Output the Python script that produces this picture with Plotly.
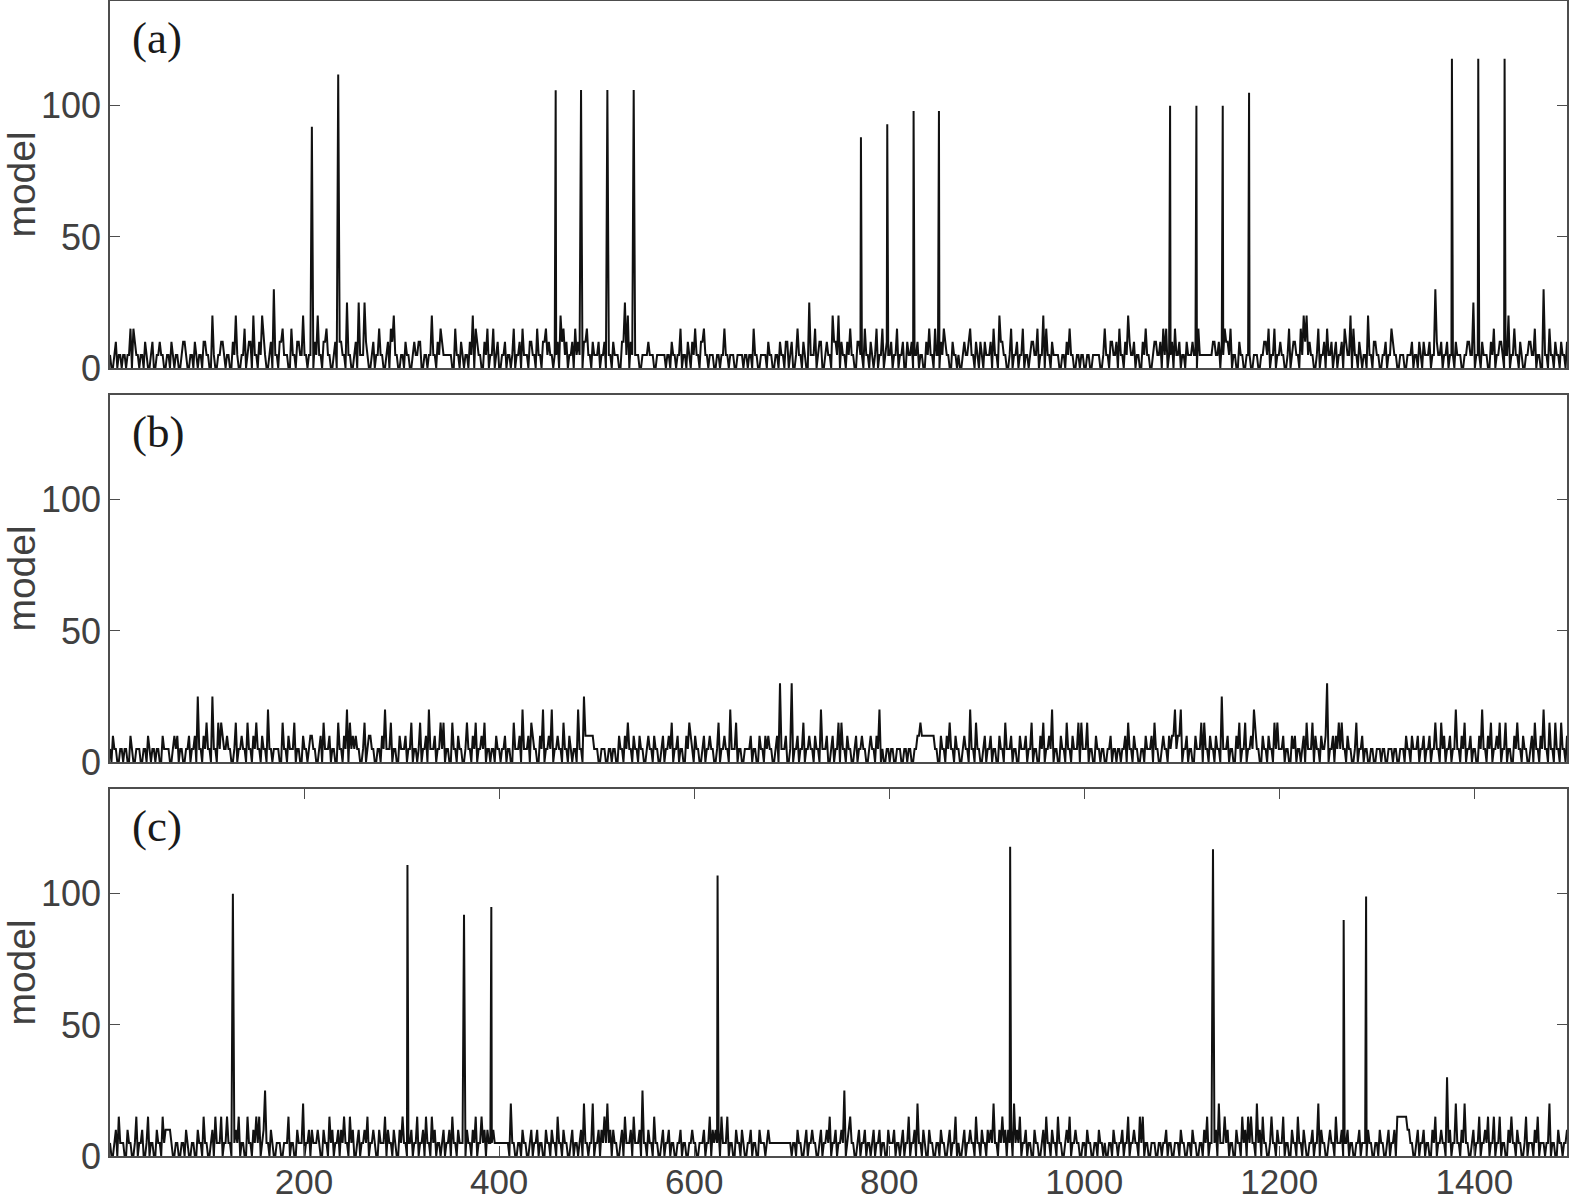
"""
Three stacked count traces, (a) (b) (c), shared x-range 1..1495.
"""

import plotly.graph_objects as go
from plotly.subplots import make_subplots

# ── Colours / fonts ───────────────────────────────────────────────────────────
LINE  = "#111111"   # data trace
AXIS  = "#4d4d4d"   # frame + ticks
TEXT  = "#404040"   # tick labels, axis title
SANS  = "Liberation Sans, Arial, sans-serif"
SERIF = "Liberation Serif, Times New Roman, serif"

# ── Data ──────────────────────────────────────────────────────────────────────
# Baseline noise is read at two interleaved grids: "main" samples at
# GRID_START + GRID_STEP*i and "mid" samples half a step later.
# Each digit is a level in multiples of LEVEL_STEP (0, 5, 10, ... 30).
GRID_START = 1
GRID_STEP  = 3
LEVEL_STEP = 5

PANEL_A_MAIN = (
    "10210113310120101210120102101201210401211024013124"
    "12410261231031214111241231021215102515102131023410"
    "12102120114123111031201243102313101210312310213123"
    "21124321232123121212212102542110112101110121131012"
    "31231110113111011101310112101212020312051312021424"
    "21231021312031311213120121210231312310211021312012"
    "12314210312131021314312110123101101011103121231241"
    "21023102123312310121213111121223231021010110123131"
    "21031213442103123102123143120141210121310110121012"
    "1216121211210121511210231211413120121310613121212"
)
PANEL_A_MID = (
    "01011010211010201101011012010110210101201011010201"
    "01201010211010211010110210102101010112010110102101"
    "01011201011012111010110102101010201011010112101021"
    "10102101011021011010101102101110111101111010101201"
    "10210101011010110110101101010102101101011020110210"
    "10110210101101021010102101010110101210100112101201"
    "10102101010101121010101101011010101011011021010121"
    "01011012101010121011101111121012101010110101210101"
    "10102101211010101210102101011010210101210101101201"
    "101210101011012101011010120101101012101010101010"
)
PANEL_B_MAIN = (
    "12101102011012011021102210121251231513312103121312"
    "31214111031213102112102312103124322103121012413102"
    "12131031241213310312103123123101211210312412310241"
    "24121312014152221011011021231212102121021231210231"
    "21021210312141310112102122102612061213121214120213"
    "31210212102124101101101101232222102123121021413102"
    "12102131210212131023124102131213313102110121011231"
    "21012123102122424121021331212151210231312410212133"
    "12102210231321216122331210312101011101110112121212"
    "1213132121412312102412312313102312102312413131312"
)
PANEL_B_MID = (
    "01010101010101101011011010101010110101211010110101"
    "10101011010110101021010110101010111010210101110101"
    "10101101011011010101011010110110101010110110210101"
    "10110101101022211010101010110101011010101101010120"
    "10101101011011010110101011010110101010110101101010"
    "10101011011010010101010101222222101011010110101010"
    "10101011010110101010110101010110110101010101101010"
    "10101101011012120101011010101011010101011210101011"
    "10101011011010120101110101010101010101010101011010"
    "101101010110101010110101101010110101010110101010"
)
PANEL_C_MAIN = (
    "10231021031203102132210101201021310231313112310312"
    "33151201101310214122120213212231320212312021321202"
    "31121312313210212312112123132212111114101210212102"
    "12131210210241141223422102312312512131021210121012"
    "10121322231310212012102102111111101210212102123121"
    "25131021210212102121021312412021012102131021213121"
    "22412322242312102102312131023121012101211012112131"
    "21331011011210112101210123112413210213233142310312"
    "13102131201214210213121210121121012102123333210212"
    "1023121621412410213123131310231210311231114102112"
)
PANEL_C_MID = (
    "01011010101010101012201010101010101011011011010101"
    "10210101011010110101110101010110101011011011010101"
    "10101010101011010101101010110111111101010101010101"
    "01010101011010101011101010110110101010101010101011"
    "01101011011010101010101111111111110101011010110101"
    "10210101011010101101101010101010101010100101101010"
    "11101101011010101010101010110110101010100101010101"
    "10101010101010101010101010110111010101011010101101"
    "10101010101010101101101010101010101010103332101010"
    "101011010110110101011010101011010101010101010101"
)

# Tall single-sample spikes: position and height.
PANEL_A_SPIKE_X = [208, 235, 458, 484, 511, 538, 771, 798, 825, 851,
                   1088, 1115, 1142, 1169, 1377, 1404, 1431]
PANEL_A_SPIKE_Y = [92, 112, 106, 106, 106, 106, 88, 93, 98, 98,
                   100, 100, 100, 105, 118, 118, 118]
PANEL_B_SPIKE_X = []
PANEL_B_SPIKE_Y = []
PANEL_C_SPIKE_X = [127, 306, 364, 392, 624, 924, 1132, 1266, 1289]
PANEL_C_SPIKE_Y = [100, 111, 92, 95, 107, 118, 117, 90, 99]

PANEL_TAGS  = ["(a)", "(b)", "(c)"]
X_RANGE     = [1, 1495]
Y_RANGE     = [0, 140]
X_TICKS     = [200, 400, 600, 800, 1000, 1200, 1400]
Y_TICKS     = [0, 50, 100]
Y_TITLE     = "model"


def panel_series(main, mid, spike_x, spike_y):
    """Merge both sampled grids with the spikes into one x-sorted trace."""
    pts = {GRID_START + GRID_STEP * i: LEVEL_STEP * int(c)
           for i, c in enumerate(main)}
    pts.update({GRID_START + GRID_STEP * (i + 0.5): LEVEL_STEP * int(c)
                for i, c in enumerate(mid)})
    pts.update(zip(spike_x, spike_y))
    xs = sorted(pts)
    return xs, [pts[x] for x in xs]


panels = [
    (PANEL_A_MAIN, PANEL_A_MID, PANEL_A_SPIKE_X, PANEL_A_SPIKE_Y),
    (PANEL_B_MAIN, PANEL_B_MID, PANEL_B_SPIKE_X, PANEL_B_SPIKE_Y),
    (PANEL_C_MAIN, PANEL_C_MID, PANEL_C_SPIKE_X, PANEL_C_SPIKE_Y),
]

# ── Figure ────────────────────────────────────────────────────────────────────
fig = make_subplots(rows=3, cols=1, vertical_spacing=27 / 1155)

for row, (series, tag) in enumerate(zip(panels, PANEL_TAGS), start=1):
    xs, ys = panel_series(*series)
    fig.add_trace(go.Scatter(
        x=xs, y=ys, mode="lines",
        line=dict(color=LINE, width=2),
        showlegend=False, hoverinfo="skip"
    ), row=row, col=1)

    bottom = row == 3
    fig.update_xaxes(
        range=X_RANGE, showgrid=False, zeroline=False, automargin=False,
        showline=True, linecolor=AXIS, linewidth=1.5,
        mirror="ticks" if bottom else True,
        ticks="inside" if bottom else "", ticklen=10, tickwidth=1.3,
        tickcolor=AXIS, tickvals=X_TICKS, showticklabels=bottom,
        tickfont=dict(family=SANS, size=35, color=TEXT),
        ticklabelstandoff=-6,
        row=row, col=1
    )
    fig.update_yaxes(
        range=Y_RANGE, showgrid=False, zeroline=False, automargin=False,
        showline=True, linecolor=AXIS, linewidth=1.5, mirror="ticks",
        ticks="inside", ticklen=10, tickwidth=1.3, tickcolor=AXIS,
        tickvals=Y_TICKS,
        tickfont=dict(family=SANS, size=36, color=TEXT),
        title=dict(text=Y_TITLE, standoff=4,
                   font=dict(family=SANS, size=39, color=TEXT)),
        row=row, col=1
    )

    suffix = "" if row == 1 else str(row)
    fig.add_annotation(
        text=tag, showarrow=False,
        xref=f"x{suffix} domain", yref=f"y{suffix} domain",
        x=0.0135, y=0.898, xanchor="left", yanchor="middle",
        font=dict(family=SERIF, size=45, color="#1a1a1a")
    )

fig.update_layout(
    width=1570, height=1201,
    margin=dict(l=110, r=3, t=1, b=45),
    paper_bgcolor="white", plot_bgcolor="white"
)

# page body margin would otherwise offset the figure by 8px
fig.write_html("out.html", config={"displayModeBar": False},
               post_script="document.body.style.margin='0';")
